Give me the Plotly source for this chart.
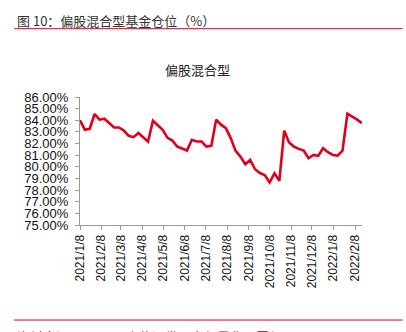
import plotly.graph_objects as go
import pandas as pd

start_date = "2021-01-08"
n_weeks = 59
equity_position = [
    84.00, 83.18, 83.27, 84.54, 84.05, 84.13, 83.76, 83.38, 83.38, 83.12,
    82.67, 82.55, 82.90, 82.55, 82.17, 83.96, 83.56, 83.18, 82.49, 82.26,
    81.74, 81.54, 81.40, 82.32, 82.17, 82.17, 81.74, 81.80, 84.05, 83.62,
    83.33, 82.47, 81.37, 80.88, 80.22, 80.59, 79.79, 79.47, 79.30, 78.66,
    79.44, 78.80, 83.10, 82.09, 81.74, 81.54, 81.40, 80.74, 81.02, 80.94,
    81.60, 81.26, 81.02, 80.96, 81.40, 84.57, 84.33, 84.05, 83.76,
]
dates = pd.date_range(start_date, periods=n_weeks, freq="7D")

tick_dates = pd.date_range("2021-01-01", "2022-02-01", freq="MS") + pd.Timedelta(days=7)
tick_labels = [f"{d.year}/{d.month}/{d.day}" for d in tick_dates]
y_ticks = list(range(75, 87))
y_tick_labels = [f"{v:.2f}%" for v in y_ticks]

W, H = 406, 332
L, R, T, B = 80, 362.3, 97.3, 224.7

def px(x):
    return (x - L) / (R - L)

def py(y):
    return (B - y) / (B - T)

fig = go.Figure()
fig.add_trace(go.Scatter(
    x=dates, y=equity_position, mode="lines",
    line=dict(color="#E0001B", width=2.6), hoverinfo="skip", showlegend=False,
))

font_en = "Liberation Sans, Arial, Noto Sans CJK SC"
font_cn = "Noto Sans CJK SC, Liberation Sans"

fig.update_layout(
    width=W, height=H,
    margin=dict(l=L, r=W - R, t=T, b=H - B, pad=0),
    paper_bgcolor="white", plot_bgcolor="white",
    font=dict(family=font_en, color="#111111", size=12),
    xaxis=dict(
        type="date", range=[dates[0], dates[-1]],
        tickvals=list(tick_dates), ticktext=tick_labels, tickangle=-90,
        showgrid=False, zeroline=False, showline=True, linecolor="#999999", linewidth=1,
        ticks="outside", ticklen=4, tickcolor="#999999",
        tickfont=dict(size=12, family=font_en, color="#111111"),
    ),
    yaxis=dict(
        range=[75, 86], tickvals=y_ticks, ticktext=y_tick_labels,
        showgrid=False, zeroline=False, showline=True, linecolor="#999999", linewidth=1,
        ticks="outside", ticklen=4, tickcolor="#999999",
        tickfont=dict(size=13, family=font_en, color="#111111"),
        ticklabelstandoff=4,
    ),
)

fig.add_annotation(
    text="图 10：偏股混合型基金仓位（%）", xref="paper", yref="paper",
    x=px(15), y=py(21), xanchor="left", yanchor="middle", showarrow=False,
    font=dict(size=13, family=font_cn, color="#333333"),
)
fig.add_annotation(
    text="偏股混合型", xref="paper", yref="paper",
    x=px(197.5), y=py(70), xanchor="center", yanchor="middle", showarrow=False,
    font=dict(size=13, family=font_cn, color="#222222"),
)
fig.add_annotation(
    text="资料来源：Wind，中信证券研究部量化配置组", xref="paper", yref="paper",
    x=px(15), y=py(324), xanchor="left", yanchor="top", showarrow=False,
    font=dict(size=13, family=font_cn, color="#333333"),
)
for yy in (29.3, 319.3):
    fig.add_shape(type="line", xref="paper", yref="paper",
                  x0=px(14), x1=px(403), y0=py(yy), y1=py(yy),
                  line=dict(color="#E0001B", width=1))

fig.write_html("out.html")
